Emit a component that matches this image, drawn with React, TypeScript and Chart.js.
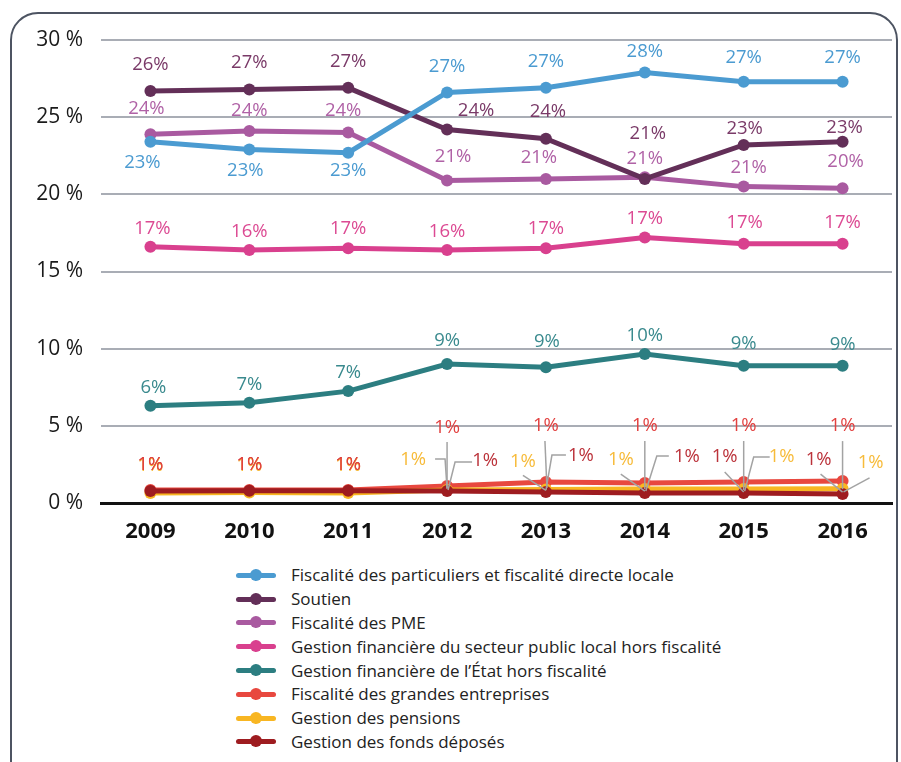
import React, { useEffect, useRef } from "react";
import { Chart, registerables } from "chart.js";

Chart.register(...registerables);

// ---------- DATA ----------
const years = ["2009", "2010", "2011", "2012", "2013", "2014", "2015", "2016"];
const yTicks = [0, 5, 10, 15, 20, 25, 30];

const seriesNames = [
  "Fiscalité des particuliers et fiscalité directe locale",
  "Soutien",
  "Fiscalité des PME",
  "Gestion financière du secteur public local hors fiscalité",
  "Gestion financière de l’État hors fiscalité",
  "Fiscalité des grandes entreprises",
  "Gestion des pensions",
  "Gestion des fonds déposés",
];

const fiscaliteParticuliers = [23.4, 22.9, 22.7, 26.6, 26.9, 27.9, 27.3, 27.3];
const soutien = [26.7, 26.8, 26.9, 24.2, 23.6, 21.0, 23.2, 23.4];
const fiscalitePME = [23.9, 24.1, 24.0, 20.9, 21.0, 21.1, 20.5, 20.4];
const secteurPublicLocal = [16.6, 16.4, 16.5, 16.4, 16.5, 17.2, 16.8, 16.8];
const gestionEtat = [6.3, 6.5, 7.25, 9.0, 8.8, 9.65, 8.9, 8.9];
const grandesEntreprises = [0.85, 0.85, 0.85, 1.1, 1.36, 1.3, 1.36, 1.42];
const gestionPensions = [0.65, 0.68, 0.65, 0.85, 0.88, 0.9, 0.9, 0.92];
const fondsDeposes = [0.78, 0.8, 0.8, 0.78, 0.71, 0.65, 0.65, 0.58];

const particuliersLabels = ["23%", "23%", "23%", "27%", "27%", "28%", "27%", "27%"];
const soutienLabels = ["26%", "27%", "27%", "24%", "24%", "21%", "23%", "23%"];
const pmeLabels = ["24%", "24%", "24%", "21%", "21%", "21%", "21%", "20%"];
const localLabels = ["17%", "16%", "17%", "16%", "17%", "17%", "17%", "17%"];
const etatLabels = ["6%", "7%", "7%", "9%", "9%", "10%", "9%", "9%"];
const grandesLabels = ["1%", "1%", "1%", "1%", "1%", "1%", "1%", "1%"];
const pensionsLabels = ["1%", "1%", "1%", "1%", "1%", "1%", "1%", "1%"];
const fondsLabels = ["1%", "1%", "1%", "1%", "1%", "1%", "1%", "1%"];

// ---------- STYLE ----------
const FONT = "'Open Sans', 'Noto Sans', sans-serif";
const lineColors = [
  "#4b9bd1",
  "#632f58",
  "#a95aa0",
  "#d9408e",
  "#2c7e81",
  "#e8483f",
  "#f8b622",
  "#9e1c20",
];
const labelColors = [
  "#4b9bd1",
  "#7a3a68",
  "#b062a6",
  "#dc4a93",
  "#3a8a8e",
  "#e2403f",
  "#f7bb3a",
  "#bb323a",
];
const drawOrder = [0, 0, 0, 0, 0, -1, -2, -3];

type Pt = [number, number];
// label placement relative to each point (pixels), and optional leader lines
const labelOffsets: Pt[][] = [
  [[-8, 21], [-4, 21], [0, 18], [0, -26], [0, -26], [0, -21], [0, -24], [0, -24]],
  [[0, -26], [0, -27], [0, -26], [29, -19], [2, -27], [3, -45], [1, -16], [2, -14]],
  [[-4, -25], [0, -20], [-5, -22], [6, -24], [-7, -21], [0, -19], [5, -19], [3, -26]],
  [[2, -18], [0, -18], [0, -20], [0, -18], [0, -20], [0, -19], [1, -21], [0, -21]],
  [[3, -18], [0, -18], [0, -18], [0, -23], [1, -25], [0, -18], [0, -22], [0, -21]],
  [[0, -25], [0, -25], [0, -25], [0, -58], [0, -56], [0, -57], [0, -56], [0, -55]],
  [[0, -27], [0, -27], [0, -27], [-34, -30], [-23, -28], [-24, -29], [38, -32], [28, -26]],
  [[0, -26], [0, -26], [0, -26], [38, -30], [35, -36], [42, -36], [-19, -36], [-24, -34]],
];
const leaderLines: (Pt[] | null)[][] = [
  [null, null, null, null, null, null, null, null],
  [null, null, null, null, null, null, null, null],
  [null, null, null, null, null, null, null, null],
  [null, null, null, null, null, null, null, null],
  [null, null, null, null, null, null, null, null],
  [
    null, null, null,
    [[0, -44], [0, 2]],
    [[-1, -41], [1, 6]],
    [[0, -42], [0, 6]],
    [[0, -41], [0, 8]],
    [[0, -40], [0, 8]],
  ],
  [
    null, null, null,
    [[-12, -31], [-2, -31], [0, -1]],
    [[-23, -14], [0, 1]],
    [[-24, -15], [0, 2]],
    [[26, -32], [10, -32], [1, 2]],
    [[27, -11], [1, 3]],
  ],
  [
    null, null, null,
    [[25, -29], [8, -29], [1, -1]],
    [[20, -37], [6, -37], [0, -2]],
    [[24, -37], [12, -37], [1, -2]],
    [[-19, -21], [0, -1]],
    [[-22, -20], [0, -2]],
  ],
];

const seriesValues = [
  fiscaliteParticuliers,
  soutien,
  fiscalitePME,
  secteurPublicLocal,
  gestionEtat,
  grandesEntreprises,
  gestionPensions,
  fondsDeposes,
];
const seriesLabels = [
  particuliersLabels,
  soutienLabels,
  pmeLabels,
  localLabels,
  etatLabels,
  grandesLabels,
  pensionsLabels,
  fondsLabels,
];

const valueLabelPlugin = {
  id: "valueLabels",
  afterDatasetsDraw(chart: any) {
    const ctx = chart.ctx;
    ctx.save();
    // leaders
    ctx.strokeStyle = "#a3a3a3";
    ctx.lineWidth = 1.5;
    for (let di = 0; di < chart.data.datasets.length; di++) {
      const meta = chart.getDatasetMeta(di);
      meta.data.forEach((pt: any, i: number) => {
        const leader = leaderLines[di][i];
        if (!leader) return;
        ctx.beginPath();
        leader.forEach(([dx, dy], k) => {
          if (k === 0) ctx.moveTo(pt.x + dx, pt.y + dy);
          else ctx.lineTo(pt.x + dx, pt.y + dy);
        });
        ctx.stroke();
      });
    }
    ctx.font = `18.5px ${FONT}`;
    ctx.textAlign = "center";
    ctx.textBaseline = "middle";
    for (let di = chart.data.datasets.length - 1; di >= 0; di--) {
      const meta = chart.getDatasetMeta(di);
      ctx.fillStyle = labelColors[di];
      meta.data.forEach((pt: any, i: number) => {
        const [dx, dy] = labelOffsets[di][i];
        ctx.fillText(seriesLabels[di][i], pt.x + dx, pt.y + dy);
      });
    }
    ctx.restore();
  },
};

function Legend() {
  return (
    <div
      style={{
        position: "absolute",
        left: 224,
        top: 549,
        fontFamily: FONT,
        fontSize: 17,
        color: "#222",
      }}
    >
      {seriesNames.map((name, i) => (
        <div
          key={name}
          style={{ display: "flex", alignItems: "center", height: 23.8 }}
        >
          <div style={{ position: "relative", width: 40, height: 14, marginRight: 15 }}>
            <div
              style={{
                position: "absolute",
                left: 0,
                top: 5,
                width: 40,
                height: 5,
                borderRadius: 3,
                background: lineColors[i],
              }}
            />
            <div
              style={{
                position: "absolute",
                left: 14,
                top: 1,
                width: 12,
                height: 12,
                borderRadius: 6,
                background: lineColors[i],
              }}
            />
          </div>
          <span style={{ whiteSpace: "nowrap" }}>{name}</span>
        </div>
      ))}
    </div>
  );
}

export default function App() {
  const canvasRef = useRef<HTMLCanvasElement | null>(null);

  useEffect(() => {
    if (!canvasRef.current) return;
    const chart = new Chart(canvasRef.current, {
      type: "line",
      data: {
        labels: years,
        datasets: seriesNames.map((name, i) => ({
          label: name,
          data: seriesValues[i],
          borderColor: lineColors[i],
          backgroundColor: lineColors[i],
          pointBackgroundColor: lineColors[i],
          pointBorderWidth: 0,
          pointRadius: 6,
          borderWidth: 5,
          tension: 0,
          order: drawOrder[i],
        })),
      },
      options: {
        animation: false,
        responsive: false,
        maintainAspectRatio: false,
        layout: { padding: { top: 26, right: 6, left: 0, bottom: 0 } },
        plugins: {
          legend: { display: false },
          tooltip: { enabled: false },
        },
        scales: {
          x: {
            offset: true,
            grid: { display: false, drawTicks: false },
            border: { display: true, color: "#111", width: 3 },
            ticks: {
              padding: 16,
              color: "#111",
              font: { family: FONT, size: 22, weight: "bold" },
            },
            afterFit: (scale: any) => {
              scale.height = 51;
            },
          },
          y: {
            min: 0,
            max: 30,
            afterBuildTicks: (scale: any) => {
              scale.ticks = yTicks.map((v) => ({ value: v }));
            },
            grid: { color: "#a9adb5", lineWidth: 2, drawTicks: false },
            border: { display: false },
            ticks: {
              padding: 18,
              color: "#1a1a1a",
              font: { family: FONT, size: 21 },
              callback: (v: any) => `${v} %`,
            },
            afterFit: (scale: any) => {
              scale.width = 89;
              scale.paddingTop = 0;
              scale.paddingBottom = 0;
            },
          },
        },
      },
      plugins: [valueLabelPlugin],
    });
    return () => chart.destroy();
  }, []);

  return (
    <div
      style={{
        position: "absolute",
        left: 10,
        top: 12,
        width: 888,
        height: 800,
        border: "2px solid #4d5462",
        borderRadius: 28,
        boxSizing: "border-box",
      }}
    >
      <canvas
        ref={canvasRef}
        width={886}
        height={540}
        style={{ position: "absolute", left: 0, top: 0, width: 886, height: 540 }}
      />
      <Legend />
    </div>
  );
}
